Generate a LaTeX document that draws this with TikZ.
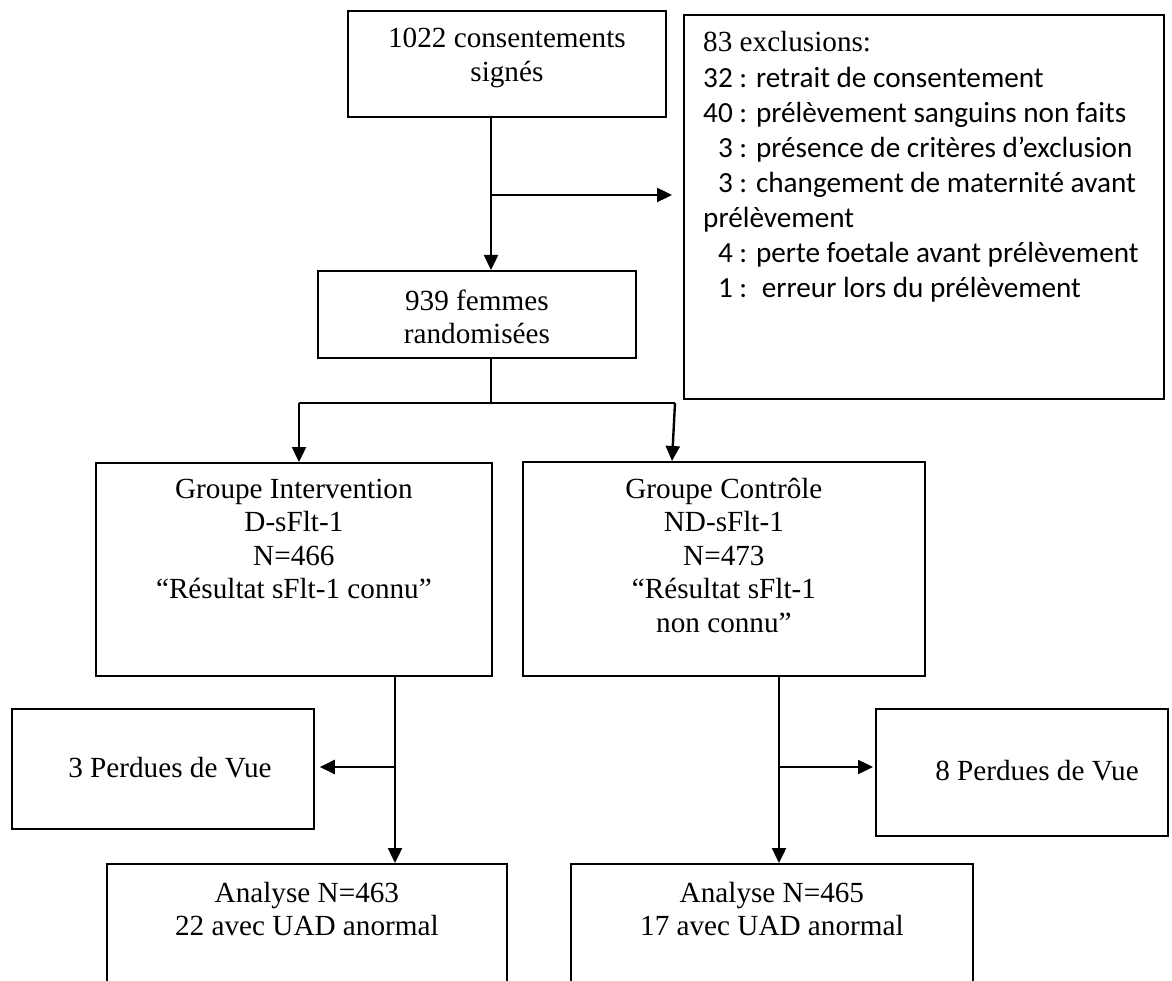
\documentclass[tikz,border=0pt]{standalone}
\usepackage{fontspec}
\setmainfont{Liberation Serif}
\newfontfamily\calib{Carlito}
\usetikzlibrary{arrows.meta,calc}
\begin{document}
\begin{tikzpicture}[x=1pt,y=-1pt,
  box/.style={draw,line width=1.8pt,inner sep=0pt,anchor=north west},
  txt/.style={font=\fontsize{29.2}{33.6}\selectfont,align=center,anchor=base,inner sep=0pt},
  conn/.style={line width=2pt},
  arr/.style={line width=2.4pt,-{Triangle[length=15pt,width=14pt]}}]
\useasboundingbox (0,0) rectangle (1172,981);
\clip (0,0) rectangle (1172,981);
\fill[white] (0,0) rectangle (1172,981);

% boxes
\node[box,minimum width=318pt,minimum height=106pt] (top) at (347,10) {};
\node[box,minimum width=480pt,minimum height=384pt] (excl) at (683,14) {};
\node[box,minimum width=318pt,minimum height=87pt] (rand) at (317,270) {};
\node[box,minimum width=396pt,minimum height=213pt] (int) at (95,462) {};
\node[box,minimum width=402pt,minimum height=214pt] (ctl) at (522,461) {};
\node[box,minimum width=302pt,minimum height=120pt] (p3) at (11,708) {};
\node[box,minimum width=292pt,minimum height=127pt] (p8) at (875,708) {};
\node[box,minimum width=400pt,minimum height=140pt] (a1) at (106,863) {};
\node[box,minimum width=402pt,minimum height=140pt] (a2) at (570,863) {};

% texts (anchor = baseline of the last line)
\node[txt] (ttop) at ($(top.north)+(0,71.6)$) {1022 consentements\\signés};
\node[txt] (trand) at ($(rand.north)+(0,73.6)$) {939 femmes\\randomisées};
\node[txt] (tint) at ($(int.north)+(0,136.8)$) {Groupe Intervention\\D-sFlt-1\\N=466\\“Résultat sFlt-1 connu”};
\node[txt] (tctl) at ($(ctl.north)+(0,171.4)$) {Groupe Contrôle\\ND-sFlt-1\\N=473\\“Résultat sFlt-1\\non connu”};
\node[txt] (tp3) at (170,777) {3 Perdues de Vue};
\node[txt] (tp8) at (1037,780) {8 Perdues de Vue};
\node[txt] (ta1) at ($(a1.north)+(0,72.6)$) {Analyse N=463\\22 avec UAD anormal};
\node[txt] (ta2) at ($(a2.north)+(0,72.6)$) {Analyse N=465\\17 avec UAD anormal};
\node[anchor=base west,inner sep=0pt,align=left,font=\calib\fontsize{29.2}{35.1}\selectfont] (extxt) at (703,297.7)
 {{\rmfamily 83 exclusions:}\\32 : retrait de consentement\\40 : prélèvement sanguins non faits\\\hphantom{0}3 : présence de critères d’exclusion\\\hphantom{0}3 : changement de maternité avant\\prélèvement\\\hphantom{0}4 : perte foetale avant prélèvement\\\hphantom{0}1 :\hspace{0.5em}erreur lors du prélèvement};

% connectors
\coordinate (sx) at (491,0);
\coordinate (ex) at (491,195);
\draw[arr] (top.south -| sx) -- (rand.north -| sx);
\draw[arr,shorten >=11pt] (ex) -- (ex -| excl.west);

\coordinate (split) at (491,403);
\coordinate (sl) at (299,403);
\coordinate (sr) at (675,403);
\draw[conn] (rand.south -| split) -- (split);
\draw[conn] (sl) -- (sr);
\draw[arr] (sl) -- (sl |- int.north);
\draw[arr] (sr) -- ($(sr |- ctl.north)+(-3,0)$);

\coordinate (il) at (395,0);
\coordinate (b1) at (395,767);
\draw[arr] (int.south -| il) -- (a1.north -| il);
\draw[arr,shorten >=5pt] (b1) -- (b1 -| p3.east);

\coordinate (ir) at (779,0);
\coordinate (b2) at (779,767);
\draw[arr] (ctl.south -| ir) -- (a2.north -| ir);
\draw[arr,shorten >=2pt] (b2) -- (b2 -| p8.west);
\end{tikzpicture}
\end{document}
